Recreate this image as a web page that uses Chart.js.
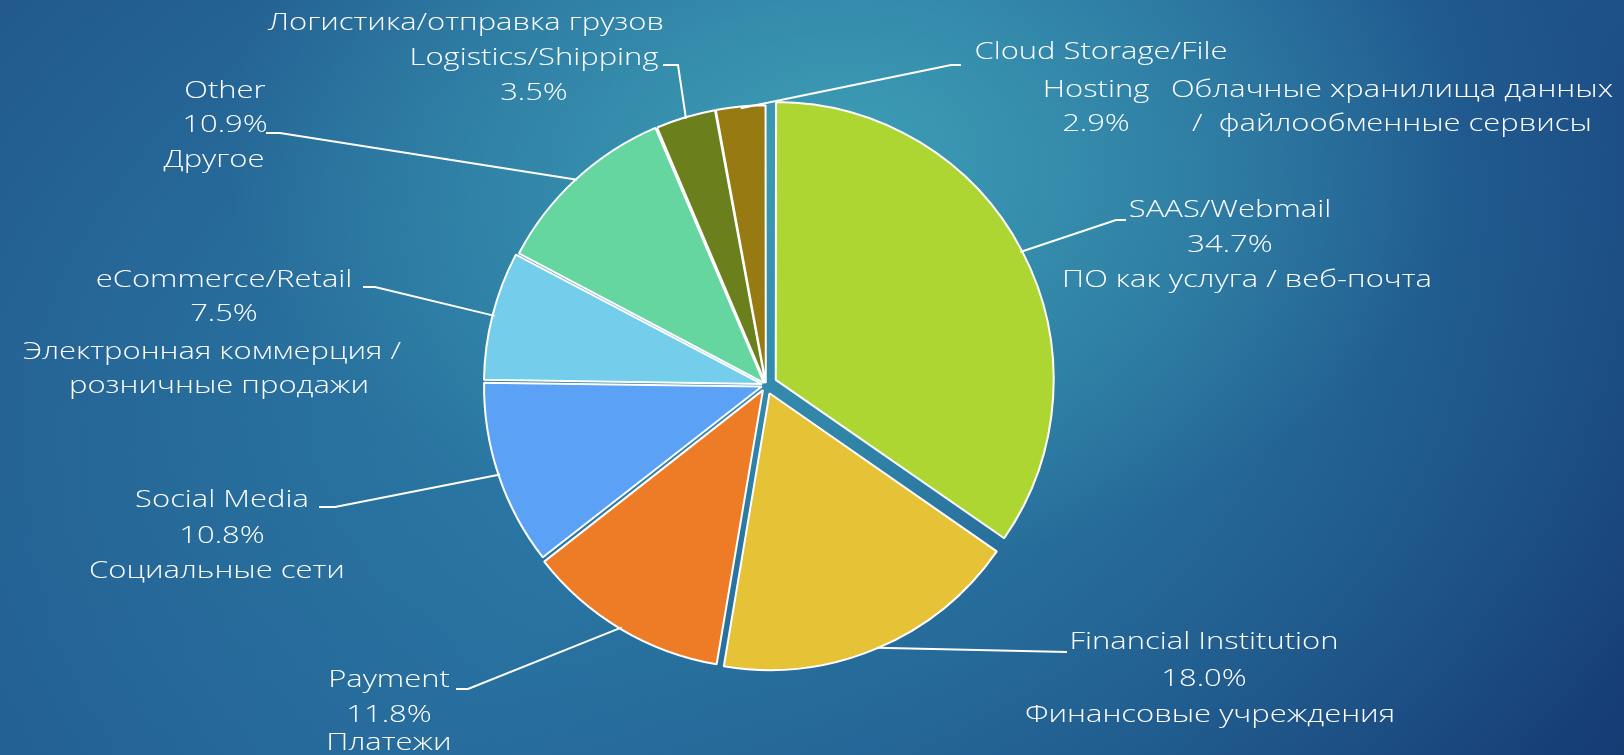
<!DOCTYPE html>
<html>
<head>
<meta charset="utf-8">
<script src="https://cdn.jsdelivr.net/npm/chart.js@4.4.1/dist/chart.umd.min.js"></script>
<style>
  html, body { margin: 0; padding: 0; width: 1624px; height: 755px; overflow: hidden; }
  body {
    background:
      radial-gradient(ellipse 38% 55% at 52% 20%, rgba(64, 164, 184, 0.85) 0%, rgba(64, 164, 184, 0) 100%),
      radial-gradient(ellipse 62% 85% at 45% 50%, rgba(45, 128, 166, 0.9) 0%, rgba(45, 128, 166, 0) 100%),
      linear-gradient(125deg, #21568a 0%, #24649a 45%, #1d5188 75%, #163c74 100%);
  }
  #chartBox { position: relative; width: 1624px; height: 755px; }
  canvas { display: block; }
</style>
</head>
<body>
<div id="chartBox"><canvas id="pieChart" width="1624" height="755"></canvas></div>
<script>
// data
const categories = ["SAAS/Webmail", "Financial Institution", "Payment", "Social Media",
  "eCommerce/Retail", "Other", "Logistics/Shipping", "Cloud Storage/File\nHosting"];
const ruNames = ["ПО как услуга / веб-почта", "Финансовые учреждения", "Платежи", "Социальные сети",
  "Электронная коммерция /\nрозничные продажи", "Другое", "Логистика/отправка грузов",
  "Облачные хранилища данных\n/  файлообменные сервисы"];
const shares = [34.7, 18.0, 11.8, 10.8, 7.5, 10.9, 3.5, 2.9];
const sliceColors = ["#add633", "#e5c236", "#ee7c26", "#5ba1f5", "#74cdeb", "#66d6a0", "#6b801c", "#977a12"];
const sliceOffsets = [44, 36, 24, 18, 16, 12, 8, 8];

// label placement (order of text parts, position of each line, leader hook points)
const labelSpots = [
  { order: ["en", "pct", "ru"], pos: [[1230, 210], [1230, 245], [1247, 280]], hook: [[1116, 220], [1126, 220]] },
  { order: ["en", "pct", "ru"], pos: [[1204, 642], [1204, 679], [1210, 715]], hook: [[1067, 652]] },
  { order: ["en", "pct", "ru"], pos: [[389, 680], [389, 715], [389, 743]], hook: [[468, 689], [456, 689]] },
  { order: ["en", "pct", "ru"], pos: [[222, 500], [222, 536], [217, 571]], hook: [[335, 507], [319, 507]] },
  { order: ["en", "pct", "ru"], pos: [[224, 280], [224, 314], [212, 352], [219, 386]], hook: [[375, 287], [363, 287]] },
  { order: ["en", "pct", "ru"], pos: [[225, 91], [225, 125], [214, 160]], hook: [[280, 133], [266, 133]] },
  { order: ["ru", "en", "pct"], pos: [[466, 23], [534, 58], [534, 93]], hook: [[678, 65], [663, 65]] },
  { order: ["en", "pct", "ru"], pos: [[1101, 52], [1096, 90], [1096, 124], [1392, 90], [1392, 124]], hook: [[951, 65], [961, 65]] }
];

const labelFont = "300 24px 'Open Sans', 'Noto Sans'";
const stretchX = 1.29;

const calloutPlugin = {
  id: "callouts",
  afterDatasetsDraw(chart) {
    const ctx = chart.ctx;
    const meta = chart.getDatasetMeta(0);
    ctx.save();
    ctx.strokeStyle = "#ffffff";
    ctx.lineWidth = 2;
    ctx.fillStyle = "#ffffff";
    ctx.font = labelFont;
    ctx.textAlign = "center";
    ctx.textBaseline = "middle";
    meta.data.forEach((arc, i) => {
      const p = arc.getProps(["x", "y", "startAngle", "endAngle", "outerRadius"], true);
      const mid = (p.startAngle + p.endAngle) / 2;
      const shift = (arc.options.offset || 0) / 4;
      const sx = p.x + Math.cos(mid) * (p.outerRadius + shift);
      const sy = p.y + Math.sin(mid) * (p.outerRadius + shift);
      const spot = labelSpots[i];
      ctx.beginPath();
      ctx.moveTo(sx, sy);
      spot.hook.forEach(pt => ctx.lineTo(pt[0], pt[1]));
      ctx.stroke();

      let lines = [];
      spot.order.forEach(part => {
        if (part === "en") lines = lines.concat(categories[i].split("\n"));
        if (part === "ru") lines = lines.concat(ruNames[i].split("\n"));
        if (part === "pct") lines.push(shares[i].toFixed(1) + "%");
      });
      lines.forEach((txt, k) => {
        const pos = spot.pos[k];
        ctx.save();
        ctx.translate(pos[0], pos[1]);
        ctx.scale(stretchX, 1);
        ctx.fillText(txt, 0, 0);
        ctx.restore();
      });
    });
    ctx.restore();
  }
};

const ctx = document.getElementById("pieChart");
new Chart(ctx, {
  type: "pie",
  data: {
    labels: categories,
    datasets: [{
      data: shares,
      backgroundColor: sliceColors,
      borderColor: "#ffffff",
      borderWidth: 2,
      offset: sliceOffsets
    }]
  },
  options: {
    responsive: false,
    animation: false,
    radius: 276,
    layout: { padding: { left: 0, right: 92, top: 15, bottom: 0 } },
    plugins: {
      legend: { display: false },
      tooltip: { enabled: false }
    }
  },
  plugins: [calloutPlugin]
});
</script>
</body>
</html>
